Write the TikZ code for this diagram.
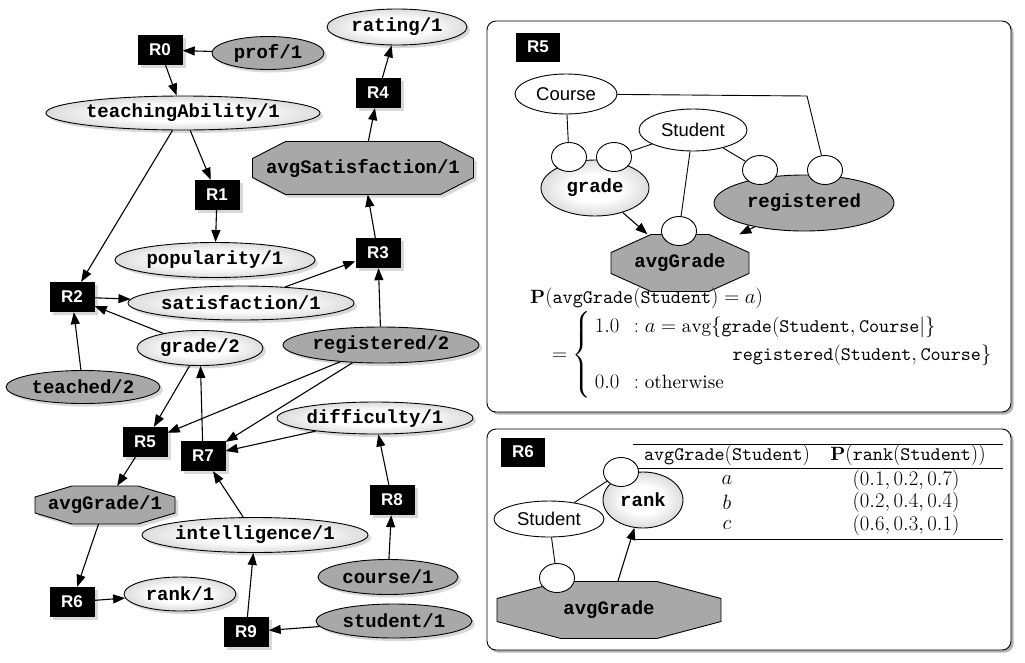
\documentclass[tikz,border=0pt]{standalone}
\usepackage{amsmath}
\usepackage{fontspec}
\usetikzlibrary{shapes.geometric,shadows,arrows.meta}
\setmainfont{lmroman10-regular.otf}[BoldFont=lmroman10-bold.otf,ItalicFont=lmroman10-italic.otf,BoldItalicFont=lmroman10-bolditalic.otf]
\setmonofont{lmmono10-regular.otf}
\newfontfamily\cour{Liberation Mono}
\newfontfamily\helv{Liberation Sans}
\definecolor{dkgray}{HTML}{A8A8A8}

% pale ball-like fill for the light predicate nodes
\pgfdeclareradialshading{pale}{\pgfpoint{0bp}{0bp}}{color(0bp)=(white); color(12bp)=(white); color(50bp)=(black!40); color(100bp)=(black!40)}

% octagon: [style]{cx}{cy}{width}{height}{chamfer x}{chamfer y}
\newcommand\octagon[7][]{\path[#1] (#2-#4/2+#6,#3-#5/2) -- (#2+#4/2-#6,#3-#5/2) -- (#2+#4/2,#3-#5/2+#7) -- (#2+#4/2,#3+#5/2-#7) -- (#2+#4/2-#6,#3+#5/2) -- (#2-#4/2+#6,#3+#5/2) -- (#2-#4/2,#3+#5/2-#7) -- (#2-#4/2,#3-#5/2+#7) -- cycle;}

\tikzset{
  lbl/.style={font=\cour\bfseries\fontsize{19}{19}\selectfont},
  nshadow/.style={drop shadow={opacity=0.3, shadow xshift=3pt, shadow yshift=-3pt}},
  lt/.style 2 args={ellipse, draw, line width=0.9pt, shading=pale, lbl, inner sep=0pt,
    minimum width=#1pt, minimum height=#2pt, nshadow},
  dk/.style 2 args={ellipse, draw, line width=0.9pt, fill=dkgray, lbl, inner sep=0pt,
    minimum width=#1pt, minimum height=#2pt, nshadow},
  rbox/.style={rectangle, fill=black, text=white, font=\helv\bfseries\fontsize{17}{17}\selectfont,
    minimum width=45pt, minimum height=30pt, inner sep=0pt, nshadow},
  rlab/.style={rectangle, fill=black, text=white, font=\helv\bfseries\fontsize{17}{17}\selectfont,
    minimum width=44pt, minimum height=29pt, inner sep=0pt},
  octo/.style={draw, line width=0.9pt, fill=dkgray, nshadow},
  poct/.style={draw, line width=0.9pt, fill=dkgray},
  octlbl/.style={rectangle, lbl, inner sep=0pt},
  arr/.style={-{Triangle[length=12pt,width=9pt]}, line width=1.1pt},
  ent/.style={ellipse, draw, line width=0.9pt, fill=white, inner sep=0pt,
    font=\helv\fontsize{18.5}{18.5}\selectfont},
  plt/.style={ellipse, draw, line width=0.9pt, shading=pale, lbl, inner sep=0pt},
  pdk/.style={ellipse, draw, line width=0.9pt, fill=dkgray, lbl, inner sep=0pt},
  port/.style={ellipse, draw, line width=0.9pt, fill=white, inner sep=0pt,
    minimum width=35pt, minimum height=29pt},
  pline/.style={line width=0.9pt},
  panel/.style={draw, line width=0.9pt, fill=white, rounded corners=9pt,
    drop shadow={opacity=0.6, shadow xshift=2.5pt, shadow yshift=-2.5pt}},
  tabrule/.style={line width=0.7pt},
  mth/.style={font=\fontsize{19.2}{23}\selectfont, inner sep=0pt},
}

\begin{document}
\begin{tikzpicture}[x=1pt,y=-1pt]
\useasboundingbox (0,0) rectangle (1025,662);
\fill[white] (0,0) rectangle (1025,662);

% ---------------- dependency graph ----------------
\node[rbox] (r0) at (160,50) {R0};
\node[dk={112}{33}] (prof) at (268,53) {prof/1};
\node[lt={140}{36}] (rating) at (397,27) {rating/1};
\node[lt={274}{34}] (teach) at (183,113) {teachingAbility/1};
\node[rbox] (r4) at (378,93) {R4};
\octagon[octo]{363}{168}{221}{53}{33}{17}
\node[octlbl, minimum width=221pt, minimum height=53pt] (avgsat) at (363,168) {avgSatisfaction/1};
\node[rbox] (r1) at (217,195) {R1};
\node[lt={200}{35}] (pop) at (215,260) {popularity/1};
\node[rbox] (r3) at (378,253) {R3};
\node[rbox] (r2) at (72,297) {R2};
\node[lt={226}{34}] (sat) at (241,303) {satisfaction/1};
\node[lt={126}{35}] (grade) at (200,348) {grade/2};
\node[dk={196}{36}] (reg) at (381,345) {registered/2};
\node[dk={154}{33}] (teached) at (83,387) {teached/2};
\node[lt={196}{32}] (diff) at (375,418) {difficulty/1};
\node[rbox] (r5) at (145,442) {R5};
\node[rbox] (r7) at (203,456) {R7};
\octagon[octo]{105}{505}{140}{38}{37}{11}
\node[octlbl, minimum width=140pt, minimum height=38pt] (avggr) at (105,505) {avgGrade/1};
\node[rbox] (r8) at (392,500) {R8};
\node[lt={226}{35}] (intel) at (255,535) {intelligence/1};
\node[rbox] (r6) at (72,602) {R6};
\node[lt={112}{34}] (rank) at (180,594) {rank/1};
\node[dk={140}{35}] (course) at (388,577) {course/1};
\node[dk={156}{34}] (student) at (394,621) {student/1};
\node[rbox] (r9) at (246,632) {R9};

\draw[arr] (prof) -- (r0);
\draw[arr] (r0) -- (teach);
\draw[arr] (teach) -- (r1);
\draw[arr] (teach) -- (r2);
\draw[arr] (r1) -- (pop);
\draw[arr] (r2) -- (sat);
\draw[arr] (grade) -- (r2);
\draw[arr] (teached) -- (r2);
\draw[arr] (sat) -- (r3);
\draw[arr] (reg) -- (r3);
\draw[arr] (r3) -- (avgsat);
\draw[arr] (avgsat) -- (r4);
\draw[arr] (r4) -- (rating);
\draw[arr] (grade) -- (r5);
\draw[arr] (reg) -- (r5);
\draw[arr] (reg) -- (r7);
\draw[arr] (r7) -- (grade);
\draw[arr] (diff) -- (r7);
\draw[arr] (intel) -- (r7);
\draw[arr] (r5) -- (avggr);
\draw[arr] (avggr) -- (r6);
\draw[arr] (r6) -- (rank);
\draw[arr] (course) -- (r8);
\draw[arr] (r8) -- (diff);
\draw[arr] (student) -- (r9);
\draw[arr] (r9) -- (intel);

% ---------------- rule R5 ----------------
\path[panel] (487,21) rectangle (1011,412);
\node[rlab] (lab5) at (538,47) {R5};
\coordinate (bend) at (807,96);
\node[ent, minimum width=102pt, minimum height=40pt] (pcourse) at (566,94) {Course};
\node[ent, minimum width=108pt, minimum height=42pt] (pstud) at (693,130) {Student};
\node[plt, minimum width=108pt, minimum height=56pt] (pgrade) at (595,188) {grade};
\node[pdk, minimum width=180pt, minimum height=56pt] (preg) at (804,203) {registered};
\octagon[poct]{680}{263}{138}{57}{40}{18}
\node[octlbl, minimum width=138pt, minimum height=57pt] (pavg) at (680,263) {avgGrade};
\node[port] (g1) at (569,157) {};
\node[port] (g2) at (614,157) {};
\node[port] (q1) at (760,170) {};
\node[port] (q2) at (825,170) {};
\node[port] (a1) at (679,231) {};
\draw[pline] (pcourse) -- (g1);
\draw[pline] (pcourse) -- (bend) -- (q2);
\draw[pline] (pstud) -- (g2);
\draw[pline] (pstud) -- (q1);
\draw[pline] (pstud) -- (a1);
\draw[arr] (pgrade) -- (pavg);
\draw[arr] (preg) -- (pavg);

\node[mth, anchor=west] (pdef) at (530,298) {$\mathbf{P}(\mathtt{avgGrade}(\mathtt{Student})=a)$};
\node[mth, anchor=west] (pcases) at (552,355) {$=\left\{\,\renewcommand\arraystretch{1.23}\begin{array}{@{}l@{\hspace{0.75em}}l@{}}
1.0 & :a=\mathrm{avg}\{\mathtt{grade}(\mathtt{Student},\mathtt{Course}|\}\\
 & \hspace{5.15em}\mathtt{registered}(\mathtt{Student},\mathtt{Course}\}\\
0.0 & :\mathrm{otherwise}
\end{array}\right.$};

% ---------------- rule R6 ----------------
\path[panel] (487,429) rectangle (1011,650);
\node[rlab] (lab6) at (523,452) {R6};
\draw[tabrule] (633,444) -- (1003,444);
\draw[tabrule] (633,468) -- (1003,468);
\draw[tabrule] (633,539) -- (1003,539);
\node[mth] (th1) at (727,455) {$\mathtt{avgGrade}(\mathtt{Student})$};
\node[mth] (th2) at (908,455) {$\mathbf{P}(\mathtt{rank}(\mathtt{Student}))$};
\node[mth] (ta) at (727,480) {$a$};
\node[mth] (tb) at (727,502) {$b$};
\node[mth] (tc) at (727,525) {$c$};
\node[mth] (va) at (906,480) {$(0.1,0.2,0.7)$};
\node[mth] (vb) at (906,502) {$(0.2,0.4,0.4)$};
\node[mth] (vc) at (906,525) {$(0.6,0.3,0.1)$};

\node[plt, minimum width=80pt, minimum height=56pt] (prank) at (643,500) {rank};
\node[port] (k1) at (621,472) {};
\node[ent, minimum width=110pt, minimum height=36pt] (pstud6) at (549,519) {Student};
\octagon[poct]{609}{610}{224}{57}{64}{17}
\node[octlbl, minimum width=224pt, minimum height=57pt] (pavg6) at (609,610) {avgGrade};
\node[port] (k2) at (557,578) {};
\draw[pline] (pstud6) -- (k1);
\draw[pline] (pstud6) -- (k2);
\draw[arr] (pavg6) -- (prank);
\end{tikzpicture}
\end{document}
